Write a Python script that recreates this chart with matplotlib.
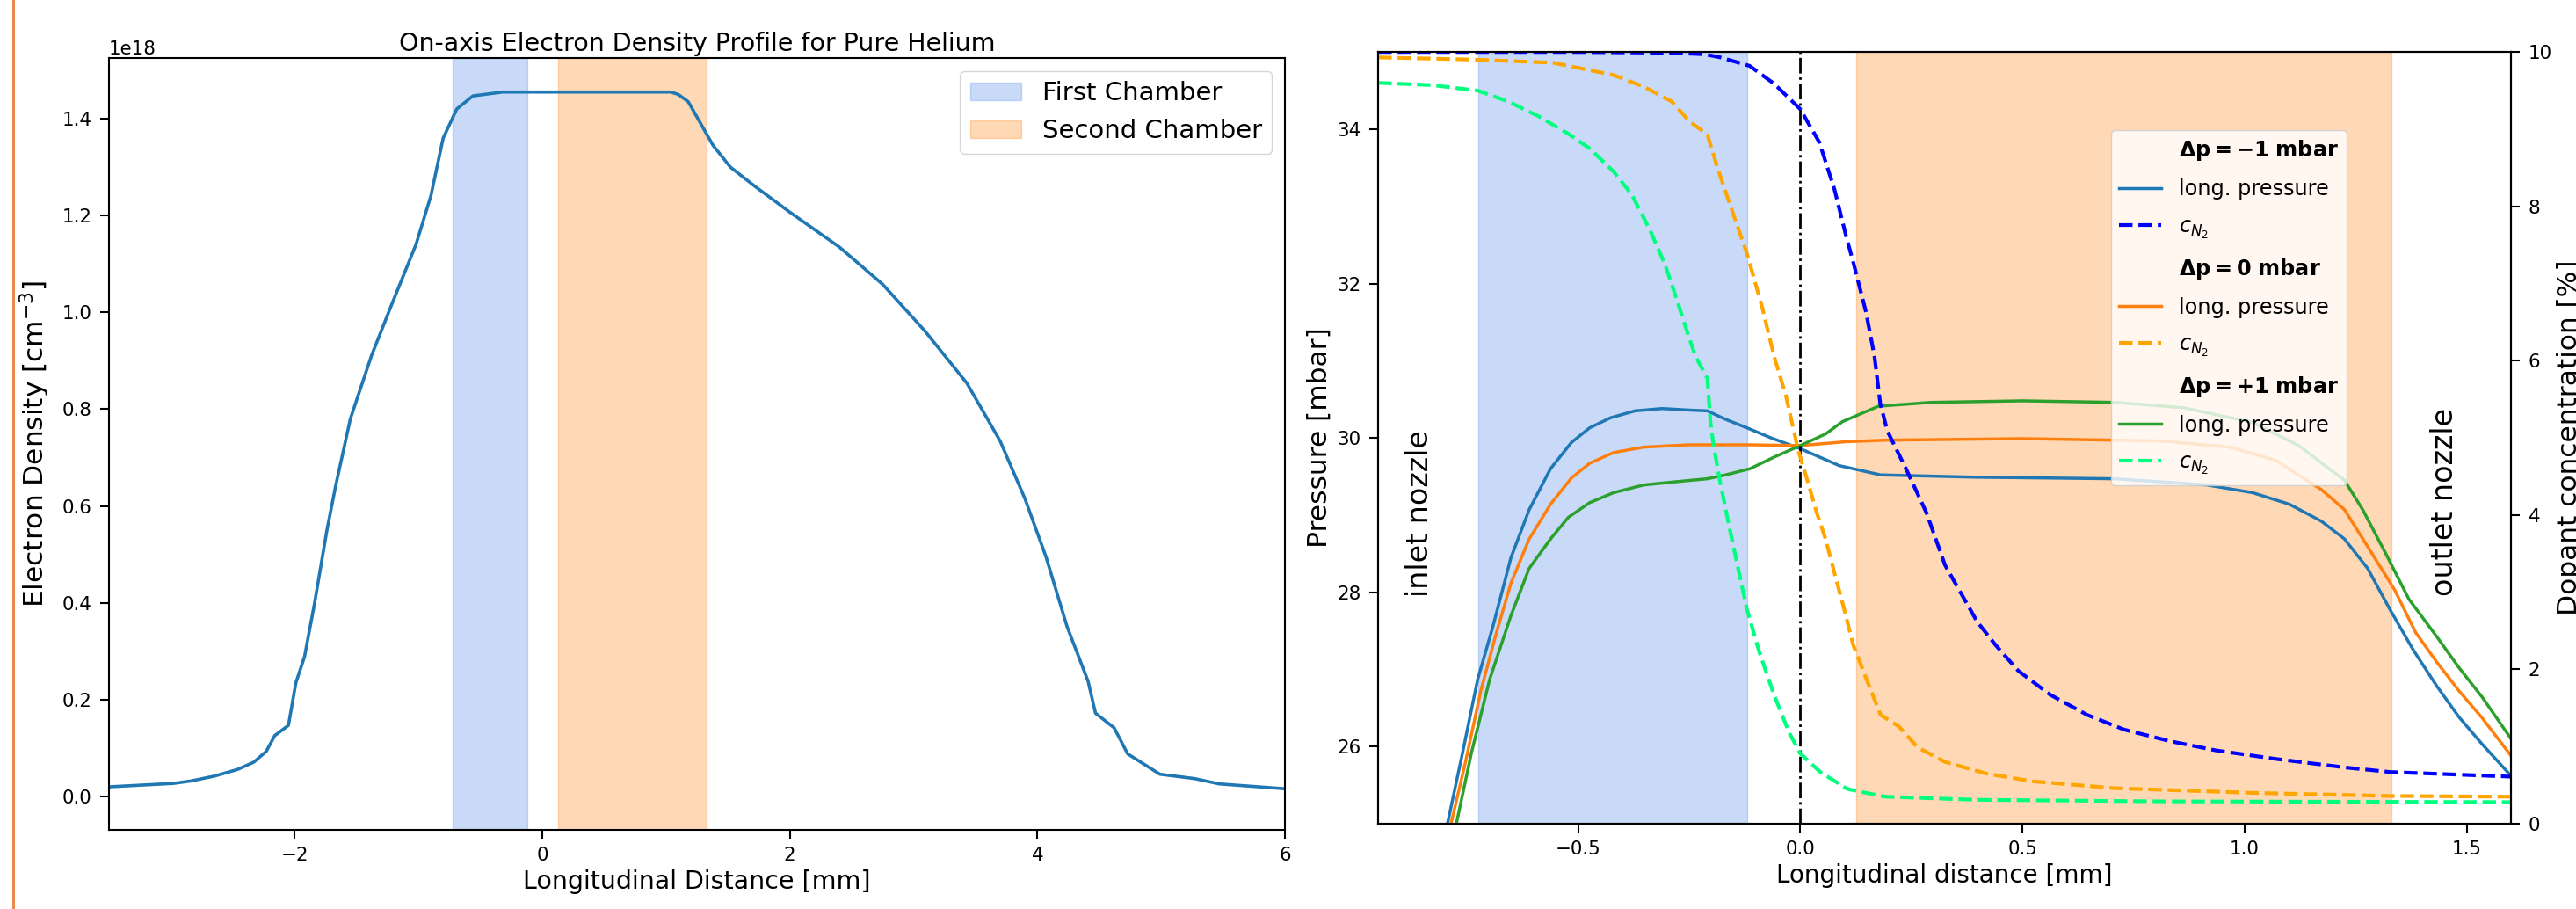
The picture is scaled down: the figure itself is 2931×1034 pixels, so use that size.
import matplotlib.pyplot as plt
from matplotlib.lines import Line2D
import numpy as np

# ---- left panel: on-axis electron density (units of 1e18 cm^-3) ----
x_ne = [-3.5, -2.98, -2.84, -2.65, -2.46, -2.33, -2.23, -2.16, -2.05, -1.99, -1.92,
        -1.84, -1.74, -1.67, -1.55, -1.38, -1.21, -1.02, -0.90, -0.80, -0.69, -0.56,
        -0.32, 0.0, 0.5, 1.04, 1.10, 1.18, 1.28, 1.38, 1.52, 1.72, 2.0, 2.4, 2.75, 3.09,
        3.43, 3.70, 3.90, 4.07, 4.24, 4.41, 4.47, 4.62, 4.73, 4.99, 5.27, 5.47, 6.0]
ne = [0.020, 0.027, 0.032, 0.042, 0.056, 0.071, 0.093, 0.126, 0.147, 0.235, 0.289,
      0.398, 0.549, 0.640, 0.780, 0.910, 1.020, 1.140, 1.240, 1.360, 1.420, 1.447,
      1.455, 1.455, 1.455, 1.455, 1.450, 1.435, 1.390, 1.345, 1.300, 1.260, 1.207, 1.135,
      1.058, 0.962, 0.854, 0.734, 0.615, 0.495, 0.351, 0.238, 0.172, 0.142, 0.088,
      0.046, 0.037, 0.026, 0.016]

# chamber extents [mm]
first_chamber = (-0.725, -0.12)
second_chamber = (0.125, 1.33)

# ---- right panel: longitudinal pressure [mbar] ----
xp_m1 = [-0.81, -0.794, -0.76, -0.726, -0.692, -0.651, -0.61, -0.562, -0.515, -0.474,
         -0.427, -0.372, -0.311, -0.249, -0.209, -0.168, -0.12, -0.066, 0.0, 0.088,
         0.181, 0.398, 0.708, 0.915, 1.018, 1.101, 1.173, 1.225, 1.277, 1.328, 1.38,
         1.432, 1.483, 1.535, 1.6]
p_m1 = [24.7, 25.0, 25.92, 26.87, 27.55, 28.45, 29.07, 29.60, 29.94, 30.13,
        30.26, 30.35, 30.38, 30.36, 30.35, 30.24, 30.13, 30.0, 29.86, 29.64,
        29.52, 29.49, 29.47, 29.39, 29.29, 29.14, 28.92, 28.69, 28.31, 27.77, 27.25,
        26.79, 26.38, 26.03, 25.62]

xp_0 = [-0.80, -0.786, -0.753, -0.719, -0.685, -0.651, -0.61, -0.562, -0.515, -0.474,
        -0.42, -0.352, -0.249, -0.113, 0.0, 0.103, 0.191, 0.501, 0.811, 0.967, 1.07,
        1.173, 1.225, 1.287, 1.338, 1.385, 1.432, 1.483, 1.535, 1.6]
p_0 = [24.7, 25.0, 25.81, 26.72, 27.45, 28.12, 28.69, 29.14, 29.48, 29.67,
       29.81, 29.88, 29.91, 29.91, 29.90, 29.95, 29.97, 29.99, 29.96, 29.88, 29.71,
       29.33, 29.07, 28.50, 28.03, 27.48, 27.10, 26.72, 26.37, 25.88]

xp_p1 = [-0.79, -0.774, -0.74, -0.699, -0.651, -0.61, -0.562, -0.522, -0.474, -0.42,
         -0.352, -0.283, -0.209, -0.168, -0.113, -0.059, 0.0, 0.057, 0.095, 0.176,
         0.295, 0.501, 0.708, 0.863, 1.018, 1.122, 1.225, 1.266, 1.318, 1.37, 1.432,
         1.483, 1.535, 1.6]
p_p1 = [24.7, 25.0, 25.92, 26.87, 27.70, 28.31, 28.69, 28.97, 29.16, 29.29,
        29.39, 29.43, 29.47, 29.52, 29.60, 29.75, 29.90, 30.05, 30.21, 30.41,
        30.46, 30.48, 30.46, 30.39, 30.20, 29.90, 29.45, 29.07, 28.50, 27.91, 27.43,
        27.02, 26.64, 26.10]

# ---- right panel: N2 dopant concentration [%] ----
xc_m1 = [-0.95, -0.5, -0.3, -0.215, -0.18, -0.114, -0.059, 0.0, 0.043, 0.077, 0.103,
         0.121, 0.148, 0.167, 0.18, 0.196, 0.238, 0.284, 0.326, 0.398, 0.439, 0.491,
         0.563, 0.646, 0.729, 0.832, 0.936, 1.07, 1.225, 1.328, 1.6]
c_m1 = [10.0, 10.0, 9.99, 9.97, 9.93, 9.82, 9.59, 9.26, 8.83, 8.22, 7.62,
        7.24, 6.63, 6.06, 5.45, 5.09, 4.60, 4.03, 3.35, 2.62, 2.32, 1.98,
        1.67, 1.41, 1.22, 1.07, 0.95, 0.84, 0.73, 0.67, 0.61]

xc_0 = [-0.95, -0.726, -0.556, -0.42, -0.352, -0.29, -0.249, -0.209, -0.188, -0.161,
        -0.12, -0.086, -0.059, -0.032, -0.005, 0.016, 0.036, 0.057, 0.077, 0.098,
        0.119, 0.15, 0.181, 0.222, 0.264, 0.326, 0.419, 0.522, 0.708, 1.018, 1.328, 1.6]
c_0 = [9.93, 9.90, 9.86, 9.70, 9.55, 9.36, 9.10, 8.93, 8.53, 8.07,
       7.39, 6.70, 6.06, 5.54, 4.85, 4.45, 4.05, 3.69, 3.25, 2.80,
       2.32, 1.86, 1.41, 1.26, 0.99, 0.80, 0.65, 0.55, 0.46, 0.40, 0.36, 0.35]

xc_p1 = [-0.95, -0.828, -0.726, -0.658, -0.59, -0.522, -0.474, -0.42, -0.379, -0.338,
         -0.304, -0.277, -0.256, -0.236, -0.209, -0.202, -0.195, -0.181, -0.161, -0.141,
         -0.12, -0.093, -0.059, -0.025, 0.0, 0.045, 0.106, 0.191, 0.398, 0.811, 1.6]
c_p1 = [9.60, 9.57, 9.50, 9.36, 9.17, 8.94, 8.75, 8.45, 8.15, 7.69,
        7.24, 6.78, 6.40, 6.06, 5.77, 5.20, 4.90, 4.45, 3.88, 3.34,
        2.78, 2.24, 1.67, 1.18, 0.91, 0.67, 0.45, 0.35, 0.31, 0.29, 0.28]

plt.rcParams['axes.linewidth'] = 1.5
plt.rcParams['xtick.major.width'] = 1.5
plt.rcParams['ytick.major.width'] = 1.5
plt.rcParams['xtick.major.size'] = 7
plt.rcParams['ytick.major.size'] = 7
plt.rcParams['xtick.major.pad'] = 7
plt.rcParams['ytick.major.pad'] = 7
plt.rcParams['xtick.labelsize'] = 15.4
plt.rcParams['ytick.labelsize'] = 15.4

fig = plt.figure(figsize=(29.31, 10.34), dpi=100)

# left chart
ax1 = fig.add_axes([0.0423, 0.0870, 0.4565, 0.849])
ax1.axvspan(*first_chamber, color='cornflowerblue', alpha=0.35, label='First Chamber')
ax1.axvspan(*second_chamber, color='tab:orange', alpha=0.3, label='Second Chamber')
ax1.plot(x_ne, np.array(ne) * 1e18, color='tab:blue', lw=2.6)
ax1.set_xlim(-3.5, 6)
ax1.set_ylim(-0.069e18, 1.525e18)
ax1.yaxis.get_offset_text().set_fontsize(15.4)
ax1.set_title('On-axis Electron Density Profile for Pure Helium', fontsize=20.5)
ax1.set_xlabel('Longitudinal Distance [mm]', fontsize=20.5)
ax1.set_ylabel(r'Electron Density [cm$^{-3}$]', fontsize=22.5, labelpad=8)
ax1.legend(loc='upper right', fontsize=21)

# right chart
ax = fig.add_axes([0.535, 0.0938, 0.4398, 0.849])
ax.axvspan(*first_chamber, color='cornflowerblue', alpha=0.35)
ax.axvspan(*second_chamber, color='tab:orange', alpha=0.3)
l1, = ax.plot(xp_m1, p_m1, color='tab:blue', lw=2.5)
l2, = ax.plot(xp_0, p_0, color='tab:orange', lw=2.5)
l3, = ax.plot(xp_p1, p_p1, color='tab:green', lw=2.5)
ax.set_xlim(-0.95, 1.6)
ax.set_ylim(25, 35)
ax.set_xlabel('Longitudinal distance [mm]', fontsize=20)
ax.set_ylabel('Pressure [mbar]', fontsize=22.5)
ax.text(0.0365, 0.402, 'inlet nozzle', transform=ax.transAxes, rotation=90,
        ha='center', va='center', fontsize=24)
ax.text(0.941, 0.417, 'outlet nozzle', transform=ax.transAxes, rotation=90,
        ha='center', va='center', fontsize=24)

ax2 = ax.twinx()
ax2.axvline(0, color='black', ls='-.', lw=2)
d1, = ax2.plot(xc_m1, c_m1, color='blue', ls='--', lw=3)
d2, = ax2.plot(xc_0, c_0, color='orange', ls='--', lw=3)
d3, = ax2.plot(xc_p1, c_p1, color='springgreen', ls='--', lw=3)
ax2.set_ylim(0, 10)
ax2.set_ylabel('Dopant concentration [%]', fontsize=22.5)

blank = Line2D([], [], linestyle='none')
handles = [blank, l1, d1, blank, l2, d2, blank, l3, d3]
labels = [r'$\mathbf{\Delta p = -1\ mbar}$', 'long. pressure', r'$c_{N_2}$',
          r'$\mathbf{\Delta p = 0\ mbar}$', 'long. pressure', r'$c_{N_2}$',
          r'$\mathbf{\Delta p = +1\ mbar}$', 'long. pressure', r'$c_{N_2}$']
ax2.legend(handles, labels, loc='upper right', bbox_to_anchor=(0.855, 0.899),
           borderaxespad=0, fontsize=17.3, labelspacing=0.75)

# orange frame line at the very left of the screenshot
fig.add_artist(Line2D([15 / 2931, 15 / 2931], [0, 1], transform=fig.transFigure,
                      color='#f0803c', lw=2))

fig.savefig('out.png', dpi=100)
